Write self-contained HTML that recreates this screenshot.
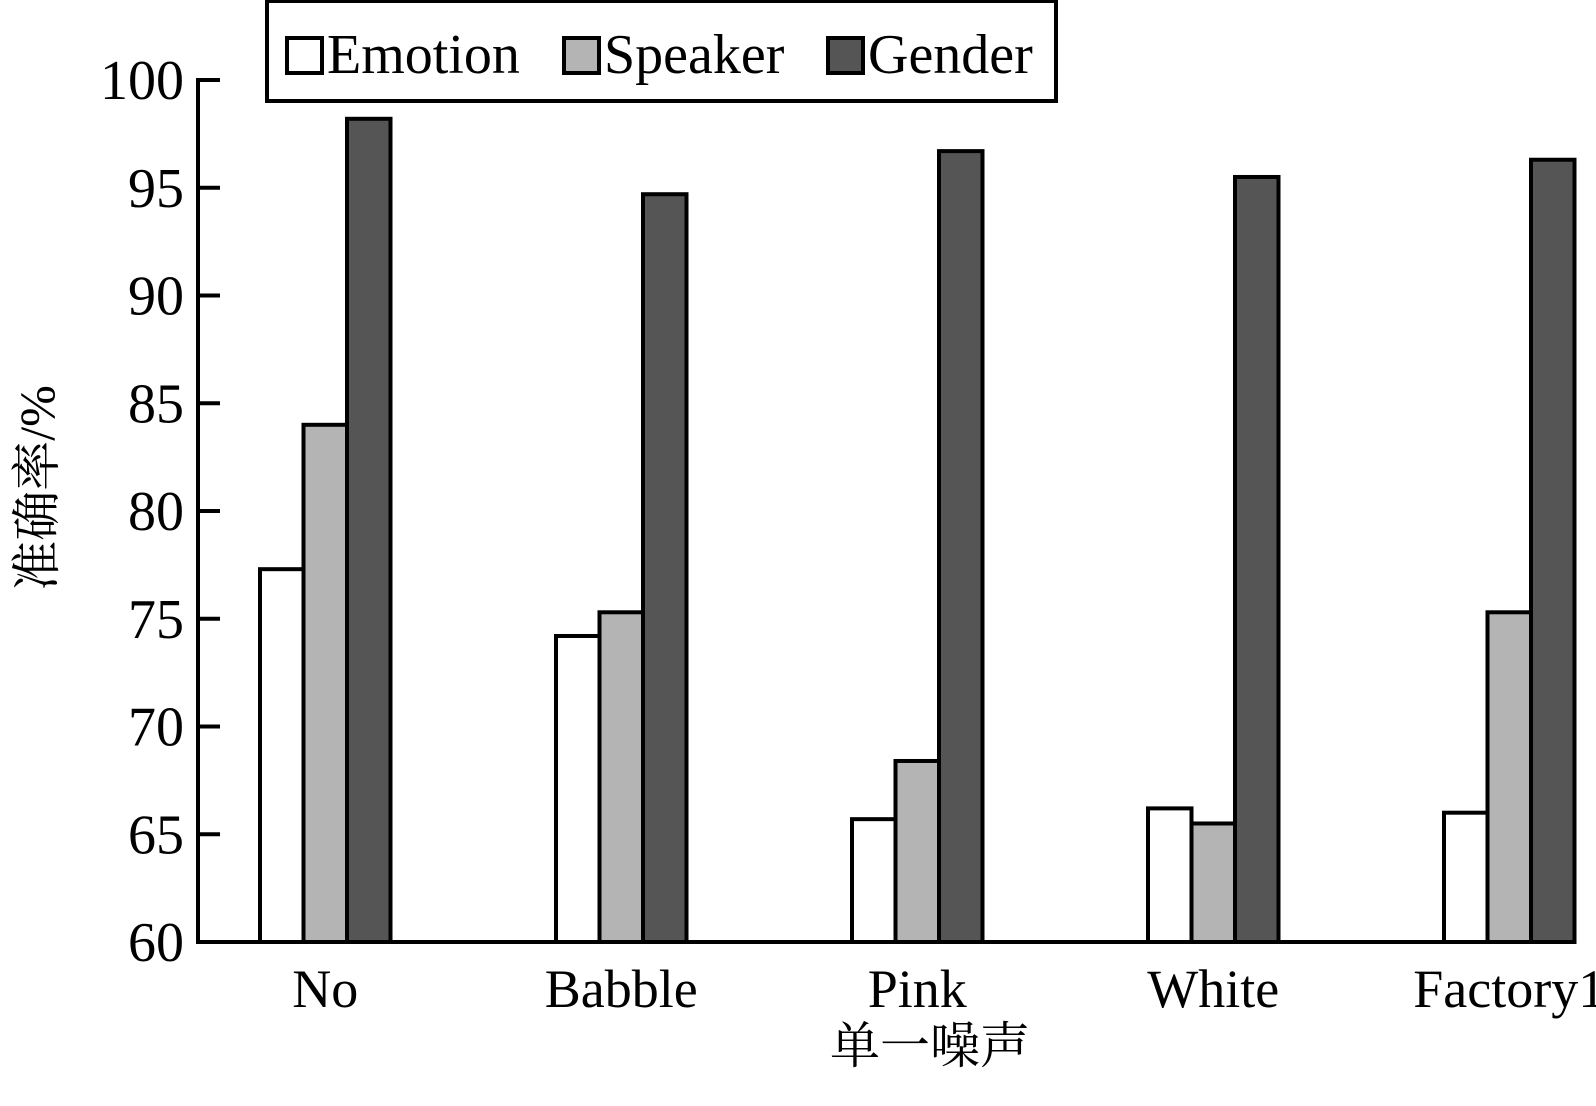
<!DOCTYPE html>
<html><head><meta charset="utf-8"><style>
body{margin:0;background:#fff;}
svg text{font-family:"Liberation Serif","Noto Serif CJK SC",serif;fill:#000;}
</style></head><body>
<svg id="chart" width="1596" height="1101" xmlns="http://www.w3.org/2000/svg">
<g id="g"></g>
</svg>
<script>
const categories=["No","Babble","Pink","White","Factory1"];
const emotion=[77.3,74.2,65.7,66.2,66.0];
const speaker=[84.0,75.3,68.4,65.5,75.3];
const gender=[98.2,94.7,96.7,95.5,96.3];
const yTicks=[60,65,70,75,80,85,90,95,100];
const seriesNames=["Emotion","Speaker","Gender"];
const fills=["#ffffff","#b4b4b4","#555555"];
const NS="http://www.w3.org/2000/svg";
const g=document.getElementById('g');
const y0=942,y1=80,vmin=60,vmax=100,axX=198;
function yScale(v){return y0-(v-vmin)/(vmax-vmin)*(y0-y1);}
function xGroup(i){return 260+296*i;}
const bw=43.5;
function mk(tag,attrs,txt){const e=document.createElementNS(NS,tag);for(const k in attrs)e.setAttribute(k,attrs[k]);if(txt!==undefined)e.textContent=txt;g.appendChild(e);return e;}
const series=[emotion,speaker,gender];
series.forEach((arr,s)=>{arr.forEach((v,i)=>{
 const r=mk('rect',{x:xGroup(i)+s*bw,y:yScale(v),width:bw,height:y0-yScale(v),fill:fills[s],stroke:'#000','stroke-width':4});
 
 
});});
// axes
const ya=mk('line',{x1:axX,y1:y1-2,x2:axX,y2:y0,stroke:'#000','stroke-width':4});


const xa=mk('line',{x1:axX-2,y1:y0,x2:xGroup(4)+3*bw+2,y2:y0,stroke:'#000','stroke-width':4});


yTicks.forEach(t=>{
 const l=mk('line',{x1:axX,y1:yScale(t),x2:axX+22,y2:yScale(t),stroke:'#000','stroke-width':4});
 
 
 const tx=mk('text',{x:184,y:yScale(t)+19,'text-anchor':'end','font-size':56},String(t));
 
 
});
categories.forEach((c,i)=>{
 const tx=mk('text',{x:xGroup(i)+1.5*bw,y:1007,'text-anchor':'middle','font-size':54},c);
 
 
});
const xt=mk('text',{x:930,y:1063,'text-anchor':'middle','font-size':50},"单一噪声");


const yt=mk('text',{x:0,y:0,'text-anchor':'middle','font-size':50,transform:'translate(54,488) rotate(-90)'},"准确率/%");


// legend
const lb=mk('rect',{x:267,y:1,width:789,height:100,fill:'#fff',stroke:'#000','stroke-width':4});


const lx=[287,564,828];
seriesNames.forEach((n,s)=>{
 const sq=mk('rect',{x:lx[s],y:38,width:35,height:35,fill:fills[s],stroke:'#000','stroke-width':4});
 
 
 const tx=mk('text',{x:lx[s]+40,y:73,'font-size':56},n);
 
 
});
</script>
</body></html>
